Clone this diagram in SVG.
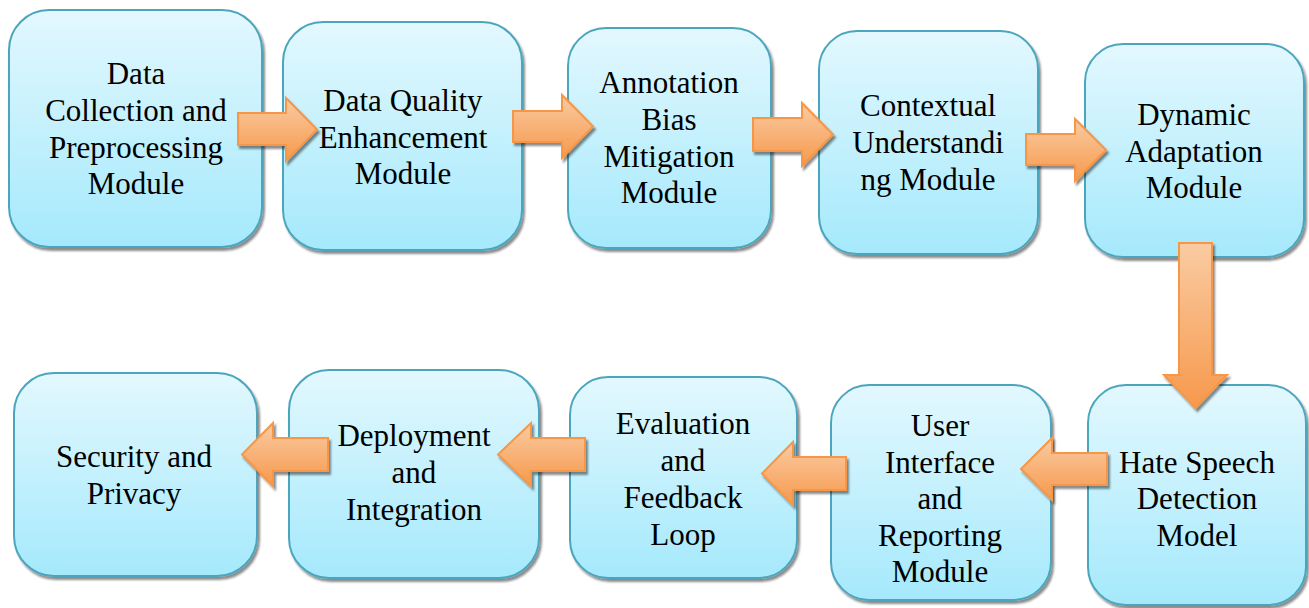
<svg xmlns="http://www.w3.org/2000/svg" width="1309" height="608" viewBox="0 0 1309 608" font-family="Liberation Serif, Times New Roman, serif">
<defs>
<linearGradient id="boxGrad" x1="0" y1="0" x2="0" y2="1">
<stop offset="0" stop-color="#e3f8fe"/>
<stop offset="1" stop-color="#a5e9fc"/>
</linearGradient>
<linearGradient id="arrGrad" x1="0" y1="0" x2="0" y2="1">
<stop offset="0" stop-color="#facba2"/>
<stop offset="1" stop-color="#f6994c"/>
</linearGradient>
<filter id="shadow" x="-10%" y="-10%" width="130%" height="130%">
<feDropShadow dx="2" dy="3" stdDeviation="1.2" flood-color="#000" flood-opacity="0.45"/>
</filter>
</defs>
<style>
.box{fill:url(#boxGrad);stroke:#4ba6bd;stroke-width:2;filter:url(#shadow)}
.arr{fill:url(#arrGrad);stroke:#f79646;stroke-width:2;stroke-linejoin:miter;filter:url(#shadow)}
</style>
<rect width="1309" height="608" fill="#fff"/>
<g id="n1"><rect class="box" x="9" y="10" width="253" height="237" rx="40"/>
<text x="136" y="84" font-size="31" text-anchor="middle">Data</text>
<text x="136" y="121" font-size="31" text-anchor="middle">Collection and</text>
<text x="136" y="158" font-size="31" text-anchor="middle">Preprocessing</text>
<text x="136" y="194" font-size="31" text-anchor="middle">Module</text></g>
<g id="n2"><rect class="box" x="283" y="22" width="239" height="228" rx="40"/>
<text x="403" y="111" font-size="31" text-anchor="middle">Data Quality</text>
<text x="403" y="148" font-size="31" text-anchor="middle">Enhancement</text>
<text x="403" y="184" font-size="31" text-anchor="middle">Module</text></g>
<g id="n3"><rect class="box" x="568" y="28" width="203" height="220" rx="38"/>
<text x="669" y="93" font-size="31" text-anchor="middle">Annotation</text>
<text x="669" y="130" font-size="31" text-anchor="middle">Bias</text>
<text x="669" y="167" font-size="31" text-anchor="middle">Mitigation</text>
<text x="669" y="203" font-size="31" text-anchor="middle">Module</text></g>
<g id="n4"><rect class="box" x="819" y="31" width="219" height="223" rx="38"/>
<text x="928" y="116" font-size="31" text-anchor="middle">Contextual</text>
<text x="928" y="153" font-size="31" text-anchor="middle">Understandi</text>
<text x="928" y="190" font-size="31" text-anchor="middle">ng Module</text></g>
<g id="n5"><rect class="box" x="1085" y="44" width="219" height="213" rx="38"/>
<text x="1194" y="125" font-size="31" text-anchor="middle">Dynamic</text>
<text x="1194" y="162" font-size="31" text-anchor="middle">Adaptation</text>
<text x="1194" y="198" font-size="31" text-anchor="middle">Module</text></g>
<g id="n6"><rect class="box" x="1088" y="385" width="218" height="220" rx="38"/>
<text x="1197" y="473" font-size="31" text-anchor="middle">Hate Speech</text>
<text x="1197" y="509" font-size="31" text-anchor="middle">Detection</text>
<text x="1197" y="546" font-size="31" text-anchor="middle">Model</text></g>
<g id="n7"><rect class="box" x="831" y="385" width="220" height="215" rx="38"/>
<text x="940" y="436" font-size="31" text-anchor="middle">User</text>
<text x="940" y="473" font-size="31" text-anchor="middle">Interface</text>
<text x="940" y="509" font-size="31" text-anchor="middle">and</text>
<text x="940" y="546" font-size="31" text-anchor="middle">Reporting</text>
<text x="940" y="582" font-size="31" text-anchor="middle">Module</text></g>
<g id="n8"><rect class="box" x="570" y="377" width="227" height="201" rx="38"/>
<text x="683" y="434" font-size="31" text-anchor="middle">Evaluation</text>
<text x="683" y="471" font-size="31" text-anchor="middle">and</text>
<text x="683" y="508" font-size="31" text-anchor="middle">Feedback</text>
<text x="683" y="545" font-size="31" text-anchor="middle">Loop</text></g>
<g id="n9"><rect class="box" x="289" y="370" width="250" height="208" rx="40"/>
<text x="414" y="446" font-size="31" text-anchor="middle">Deployment</text>
<text x="414" y="483" font-size="31" text-anchor="middle">and</text>
<text x="414" y="520" font-size="31" text-anchor="middle">Integration</text></g>
<g id="n10"><rect class="box" x="14" y="373" width="243" height="203" rx="40"/>
<text x="134" y="467" font-size="31" text-anchor="middle">Security and</text>
<text x="134" y="504" font-size="31" text-anchor="middle">Privacy</text></g>
<g id="connectors">
<polygon class="arr" points="238,113 286,113 286,98 317,129.5 286,161 286,145 238,145"/>
<polygon class="arr" points="513,111 562,111 562,95 593,126.5 562,158 562,142 513,142"/>
<polygon class="arr" points="753,118 802,118 802,103 833,134.5 802,166 802,151 753,151"/>
<polygon class="arr" points="1026,134 1075,134 1075,119 1106,150 1075,181 1075,165 1026,165"/>
<polygon class="arr" points="1179,243 1212,243 1212,375 1227,375 1195.5,408 1164,375 1179,375"/>
<polygon class="arr" points="1107,453 1052,453 1052,438 1021,469 1052,500 1052,485 1107,485"/>
<polygon class="arr" points="846,457 793,457 793,442 762,473.5 793,505 793,490 846,490"/>
<polygon class="arr" points="585,438 531,438 531,423 498,454.5 531,486 531,471 585,471"/>
<polygon class="arr" points="328,438 273,438 273,423 242,454.5 273,486 273,471 328,471"/>
</g>
</svg>
